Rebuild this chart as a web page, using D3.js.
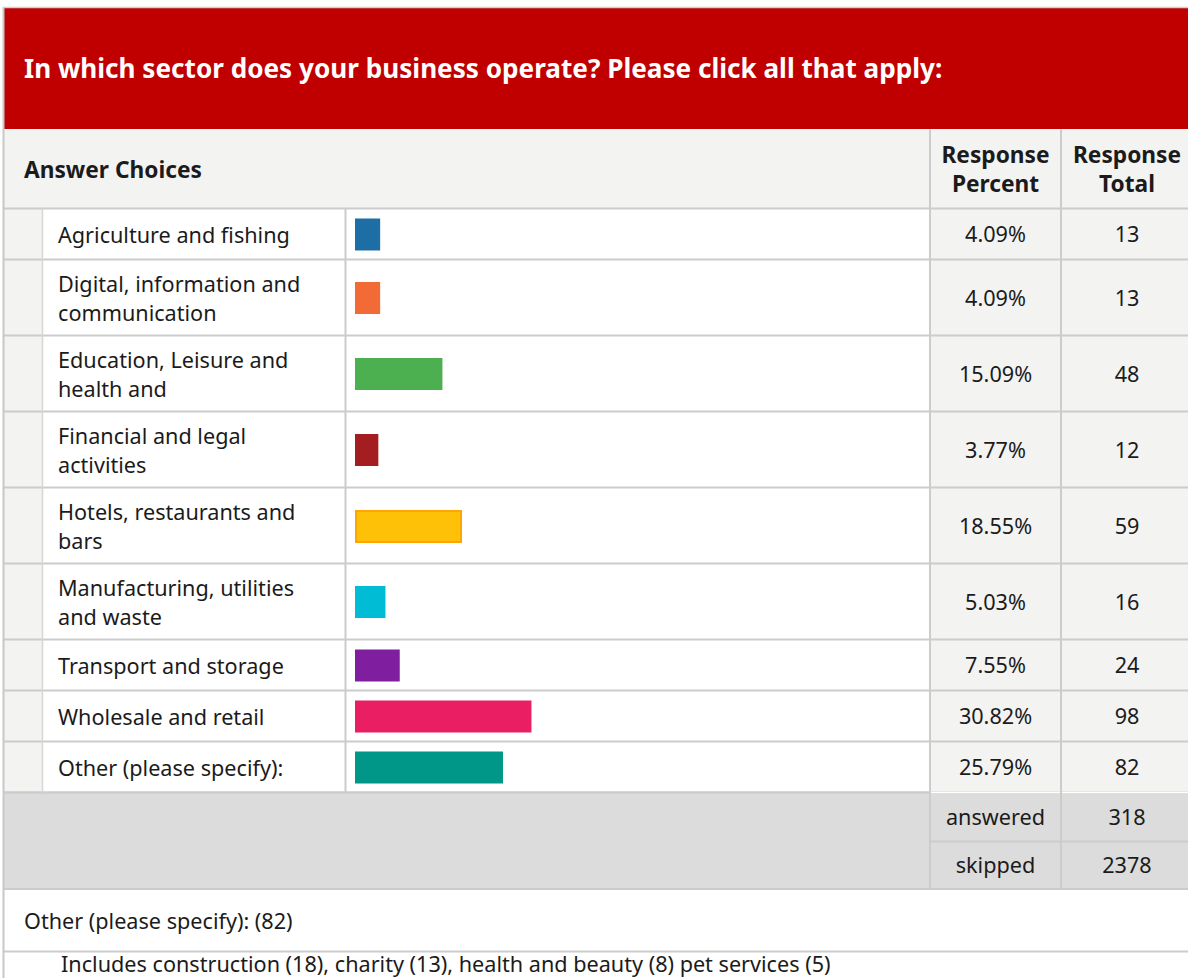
<!DOCTYPE html>
<html><head><meta charset="utf-8">
<script src="https://cdn.jsdelivr.net/npm/d3@7"></script>
<style>html,body{margin:0;padding:0;background:#fff;overflow:hidden}</style>
</head><body>
<svg id="c" width="1188" height="978"></svg>
<script>
const title = "In which sector does your business operate? Please click all that apply:";
const headerLabels = ["Answer Choices", "Response Percent", "Response Total"];
const categories = [
  "Agriculture and fishing",
  "Digital, information and communication",
  "Education, Leisure and health and",
  "Financial and legal activities",
  "Hotels, restaurants and bars",
  "Manufacturing, utilities and waste",
  "Transport and storage",
  "Wholesale and retail",
  "Other (please specify):"
];
const percents = [4.09, 4.09, 15.09, 3.77, 18.55, 5.03, 7.55, 30.82, 25.79];
const totals = [13, 13, 48, 12, 59, 16, 24, 98, 82];
const barColors = ["#1c6ea4", "#f26a35", "#4caf50", "#a31d21", "#ffc107", "#00bcd4", "#7f1fa0", "#e91e63", "#009688"];
const barStrokes = [null, null, null, null, "#ffa400", null, null, null, null];
const summaryLabels = ["answered", "skipped"];
const summaryValues = [318, 2378];
const otherHeading = "Other (please specify): (82)";
const otherNote = "Includes construction (18), charity (13), health and beauty (8) pet services (5)";

const svg = d3.select("#c");
const FAM = "'Noto Sans', 'Open Sans', sans-serif";
const TXT = "#1b1b1b";
const BORDER = "#cccccc";
const LIGHT = "#f3f3f2";

function measure(text, weight, size) {
  const t = svg.append("text").attr("font-family", FAM).attr("font-weight", weight)
    .attr("font-size", size).text(text);
  const w = t.node().getComputedTextLength();
  t.remove();
  return w;
}
function fit(text, weight, target) { return 100 * target / measure(text, weight, 100); }

const bodySize = fit("Agriculture and fishing", 400, 232);
const boldSize = fit("Answer Choices", 700, 178);
const titleSize = fit(title, 700, 919);

function wrap(text, maxW) {
  const words = text.split(" ");
  const lines = [];
  let cur = "";
  words.forEach(w => {
    const test = cur ? cur + " " + w : w;
    if (cur && measure(test, 400, bodySize) > maxW) { lines.push(cur); cur = w; }
    else cur = test;
  });
  if (cur) lines.push(cur);
  return lines;
}

// Layout
const colX = {left: 4, c1: 42.5, c2: 345.5, c3: 930, c4: 1061, right: 1188};
const rows = categories.map((c, i) => ({
  label: c, lines: wrap(c, 272), pct: percents[i], total: totals[i],
  color: barColors[i], stroke: barStrokes[i]
}));
let yCur = 208.5;
rows.forEach(r => { r.y0 = yCur; r.h = r.lines.length > 1 ? 76 : 51; yCur += r.h; r.y1 = yCur; });
const tableBottom = yCur;

const x = d3.scaleLinear().domain([0, 100]).range([357, 923]);
const barX0 = 355, barH = 32;

// Title bar
svg.append("rect").attr("x", colX.left).attr("y", 8).attr("width", colX.right - colX.left).attr("height", 121).attr("fill", "#c00000");
svg.append("text").attr("x", 24).attr("y", 78).attr("fill", "#fff").attr("font-family", FAM)
  .attr("font-weight", 700).attr("font-size", titleSize).text(title);

// Header row
svg.append("rect").attr("x", colX.left).attr("y", 129.5).attr("width", colX.right - colX.left).attr("height", 79).attr("fill", LIGHT);
svg.append("text").attr("x", 24).attr("y", 178).attr("fill", TXT).attr("font-family", FAM)
  .attr("font-weight", 700).attr("font-size", boldSize).text(headerLabels[0]);
[[headerLabels[1], 995.5], [headerLabels[2], 1127]].forEach(([t, cx]) => {
  const parts = t.split(" ");
  const tx = svg.append("text").attr("x", cx).attr("text-anchor", "middle").attr("fill", TXT)
    .attr("font-family", FAM).attr("font-weight", 700).attr("font-size", boldSize);
  tx.append("tspan").attr("x", cx).attr("y", 163).text(parts[0]);
  tx.append("tspan").attr("x", cx).attr("y", 192).text(parts[1]);
});

// Data rows
const g = svg.append("g");
const rg = g.selectAll("g.row").data(rows).join("g").attr("class", "row");
rg.append("rect").attr("x", colX.left).attr("y", d => d.y0).attr("width", colX.c1 - colX.left).attr("height", d => d.h).attr("fill", LIGHT);
rg.append("rect").attr("x", colX.c3).attr("y", d => d.y0).attr("width", colX.right - colX.c3).attr("height", d => d.h).attr("fill", LIGHT);

rg.append("rect")
  .attr("x", d => d.stroke ? barX0 + 1 : barX0)
  .attr("y", d => (d.y0 + d.y1) / 2 - barH / 2 + 0.5 + (d.stroke ? 1 : 0))
  .attr("width", d => x(d.pct) - barX0 - (d.stroke ? 2 : 0))
  .attr("height", d => d.stroke ? barH - 1 : barH)
  .attr("fill", d => d.color)
  .attr("stroke", d => d.stroke || "none")
  .attr("stroke-width", 2);

rg.each(function(d) {
  const t = d3.select(this).append("text").attr("fill", TXT).attr("font-family", FAM).attr("font-size", bodySize);
  if (d.lines.length === 1) {
    t.append("tspan").attr("x", 58).attr("y", d.y0 + 34.5).text(d.lines[0]);
  } else {
    d.lines.forEach((l, k) => t.append("tspan").attr("x", 58).attr("y", d.y0 + 32.5 + k * 29).text(l));
  }
});
rg.append("text").attr("x", 995.5).attr("y", d => (d.y0 + d.y1) / 2 + 8).attr("text-anchor", "middle")
  .attr("fill", TXT).attr("font-family", FAM).attr("font-size", bodySize).text(d => d.pct.toFixed(2) + "%");
rg.append("text").attr("x", 1127).attr("y", d => (d.y0 + d.y1) / 2 + 8).attr("text-anchor", "middle")
  .attr("fill", TXT).attr("font-family", FAM).attr("font-size", bodySize).text(d => d.total);

// Summary
const sTop = tableBottom, sRowH = 48;
svg.append("rect").attr("x", colX.left).attr("y", sTop).attr("width", colX.right - colX.left).attr("height", sRowH * 2).attr("fill", "#dcdcdc");
summaryLabels.forEach((lab, i) => {
  const cy = sTop + sRowH * i + sRowH / 2;
  svg.append("text").attr("x", 995.5).attr("y", cy + 8).attr("text-anchor", "middle").attr("fill", TXT)
    .attr("font-family", FAM).attr("font-size", bodySize).text(lab);
  svg.append("text").attr("x", 1127).attr("y", cy + 8).attr("text-anchor", "middle").attr("fill", TXT)
    .attr("font-family", FAM).attr("font-size", bodySize).text(summaryValues[i]);
});
const sBottom = sTop + sRowH * 2;

// Other section
svg.append("text").attr("x", 24).attr("y", sBottom + 40).attr("fill", TXT).attr("font-family", FAM)
  .attr("font-size", bodySize).text(otherHeading);
svg.append("text").attr("x", 61).attr("y", sBottom + 83).attr("fill", TXT).attr("font-family", FAM)
  .attr("font-size", bodySize).text(otherNote);

// Grid lines
const lines = svg.append("g").attr("stroke", BORDER).attr("stroke-width", 2).attr("fill", "none");
// horizontal
[208.5, ...rows.map(r => r.y1)].forEach(y => lines.append("line").attr("x1", colX.left).attr("x2", colX.right).attr("y1", y).attr("y2", y));
lines.append("line").attr("x1", colX.c3).attr("x2", colX.right).attr("y1", tableBottom).attr("y2", tableBottom).attr("stroke", "#fff").attr("stroke-width", 1.5);
lines.append("line").attr("x1", colX.left).attr("x2", colX.c3).attr("y1", tableBottom).attr("y2", tableBottom);
lines.append("line").attr("x1", colX.c3).attr("x2", colX.right).attr("y1", sTop + sRowH + 1).attr("y2", sTop + sRowH + 1);
lines.append("line").attr("x1", colX.left).attr("x2", colX.right).attr("y1", sBottom + 0.5).attr("y2", sBottom + 0.5);
lines.append("line").attr("x1", colX.left).attr("x2", colX.right).attr("y1", sBottom + 63).attr("y2", sBottom + 63);
// vertical
lines.append("line").attr("x1", colX.c1).attr("x2", colX.c1).attr("y1", 208.5).attr("y2", tableBottom).attr("stroke", "#d6d6d6").attr("stroke-width", 1.5);
lines.append("line").attr("x1", colX.c2).attr("x2", colX.c2).attr("y1", 208.5).attr("y2", tableBottom);
lines.append("line").attr("x1", colX.c3).attr("x2", colX.c3).attr("y1", 129.5).attr("y2", sBottom);
lines.append("line").attr("x1", colX.c4).attr("x2", colX.c4).attr("y1", 129.5).attr("y2", sBottom);
// outer
lines.append("line").attr("x1", 3.5).attr("x2", 3.5).attr("y1", 7).attr("y2", 978).attr("stroke", "#c8c8c8");
lines.append("line").attr("x1", 3).attr("x2", colX.right).attr("y1", 7.5).attr("y2", 7.5).attr("stroke", "#d0d0d0").attr("stroke-width", 1.5);
</script>
</body></html>
